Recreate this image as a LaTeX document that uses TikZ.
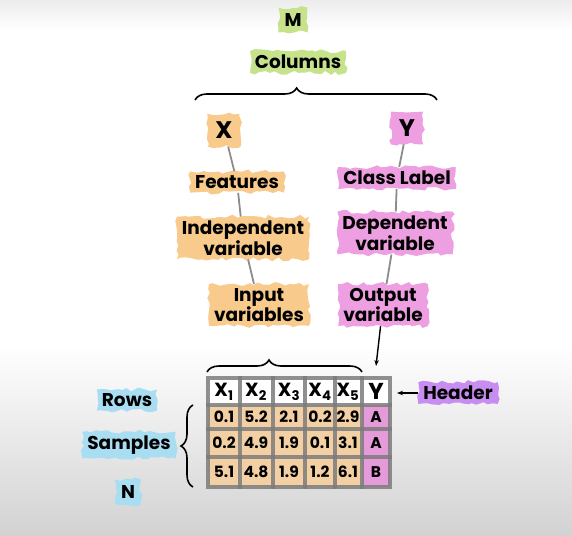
\documentclass[tikz,border=0pt]{standalone}
\usepackage{fontspec}
\setmainfont{Poppins}
\usetikzlibrary{decorations.pathmorphing,decorations.pathreplacing,arrows.meta}
\definecolor{blobgreen}{HTML}{C6E38C}
\definecolor{bloborange}{HTML}{F8CB8C}
\definecolor{blobpink}{HTML}{EE9FE2}
\definecolor{blobblue}{HTML}{A9DDF1}
\definecolor{blobpurple}{HTML}{C88DF0}
\definecolor{cellorange}{HTML}{F3D0A4}
\definecolor{cellpink}{HTML}{E59ADA}
\definecolor{gridgray}{HTML}{7C7C7C}
\pgfmathsetseed{7}
\begin{document}
\begin{tikzpicture}[
    x=1pt, y=-1pt,
    blob/.style={inner xsep=5pt, inner ysep=4pt, align=center,
                 font=\fontsize{18.5}{16}\selectfont\bfseries,
                 decorate, decoration={random steps, segment length=5pt, amplitude=2pt}},
    link/.style={draw=gray!90, line width=1.8pt},
    brc/.style={decorate, line width=1.6pt,
                decoration={brace, amplitude=12pt, aspect=#1}},
    brc/.default=0.5,
    arr/.style={-{Stealth[length=6pt]}, line width=1.4pt},
    cell/.style={font=\fontsize{15.5}{15}\selectfont\bfseries, inner sep=0pt}
  ]
    \useasboundingbox (0,0) rectangle (572,535);
    \fill[top color=gray!15, bottom color=white] (0,0) rectangle (572,30);
    \fill[white] (0,30) rectangle (572,345);
    \fill[top color=white, bottom color=gray!35] (0,345) rectangle (572,535);

    \node[blob, fill=blobgreen, inner sep=6pt] (m) at (293,20) {M};
    \node[blob, fill=blobgreen] (cols) at (298,62) {Columns};

    \node[blob, fill=bloborange, inner sep=8pt] (x) at (224,130) {\fontsize{24}{24}\selectfont X};
    \node[blob, fill=bloborange] (feat)   at (237,182) {Features};
    \node[blob, fill=bloborange] (indep)  at (243,238) {Independent\\variable};
    \node[blob, fill=bloborange] (input)  at (259,305) {Input\\variables};

    \node[blob, fill=blobpink, inner sep=8pt] (y) at (407,128) {\fontsize{24}{24}\selectfont Y};
    \node[blob, fill=blobpink] (label)  at (397,178) {Class Label};
    \node[blob, fill=blobpink] (dep)    at (395,233) {Dependent\\variable};
    \node[blob, fill=blobpink] (output) at (383,305) {Output\\variable};

    \draw[link] (x) -- (feat);
    \draw[link] (feat) -- (indep);
    \draw[link] (indep) -- (input);
    \draw[link] (y) -- (label);
    \draw[link] (label) -- (dep);
    \draw[link] (dep) -- (output);

    \draw[brc=0.42] (195,100) -- (437,100);
    \draw[brc=0.4] (207,372) -- (362,372);

    % table
    \fill[white] (208,378) rectangle (390,405);
    \fill[cellorange] (208,405) rectangle (362,487);
    \fill[cellpink] (362,405) rectangle (390,487);
    \foreach \gx in {240,273,305,335,362}
      \draw[gridgray, opacity=0.85, line width=3.5pt] (\gx,376) -- (\gx,489);
    \foreach \gy in {405,429,457}
      \draw[gridgray, opacity=0.85, line width=3.5pt] (206,\gy) -- (392,\gy);
    \draw[gridgray, opacity=0.85, line width=4pt] (208,378) rectangle (390,487);

    \foreach \i/\cx in {1/224,2/256,3/289,4/320,5/348}
      \node[cell] (h\i) at (\cx,392) {\fontsize{19}{19}\selectfont X\textsubscript{\i}};
    \node[cell] (hy) at (376,391) {\fontsize{23}{23}\selectfont Y};

    \foreach \r/\cy/\va/\vb/\vc/\vd/\ve/\vy in {1/417/0.1/5.2/2.1/0.2/2.9/A,
        2/443/0.2/4.9/1.9/0.1/3.1/A, 3/472/5.1/4.8/1.9/1.2/6.1/B} {
      \node[cell] (c\r a) at (224,\cy) {\va};
      \node[cell] (c\r b) at (256,\cy) {\vb};
      \node[cell] (c\r c) at (289,\cy) {\vc};
      \node[cell] (c\r d) at (320,\cy) {\vd};
      \node[cell] (c\r e) at (348,\cy) {\ve};
      \node[cell] (c\r y) at (376,\cy) {\vy};
    }

    \coordinate (tabtop) at (376,366);
    \draw[arr] (output) -- (tabtop);

    \node[blob, fill=blobpurple] (header) at (458,393) {Header};
    \coordinate (hdrtip) at (397,393);
    \draw[arr] (header) -- (hdrtip);

    \node[blob, fill=blobblue] (rows)    at (127,400) {Rows};
    \node[blob, fill=blobblue] (samples) at (129,445) {Samples};
    \node[blob, fill=blobblue, inner sep=6pt] (n) at (128,492) {N};
    \draw[brc] (193,487) -- (193,405);
  \end{tikzpicture}
\end{document}
